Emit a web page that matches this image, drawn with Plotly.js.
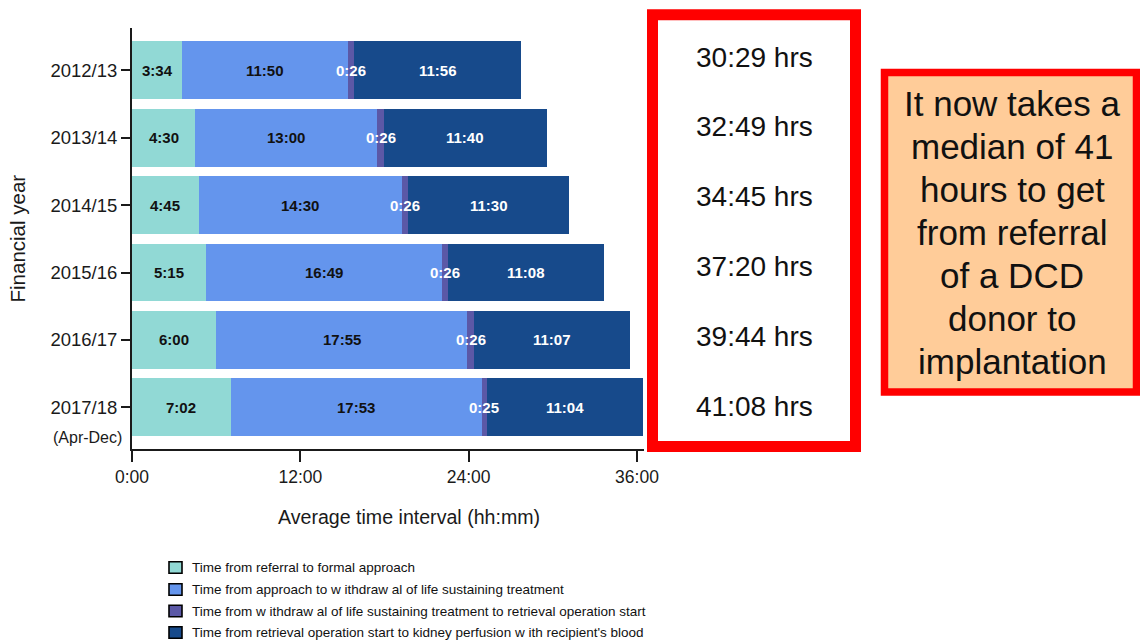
<!DOCTYPE html>
<html>
<head>
<meta charset="utf-8">
<script src="https://cdn.plot.ly/plotly-3.0.1.min.js"></script>
<style>
  html, body { margin: 0; padding: 0; background: #ffffff; }
  #chart { width: 1140px; height: 642px; }
</style>
</head>
<body>
<div id="chart"></div>
<script>
// Financial years shown on the vertical axis (top to bottom)
const years = ['2012/13', '2013/14', '2014/15', '2015/16', '2016/17', '2017/18'];

// Median interval for each stage, hh:mm
const referralToApproach   = ['3:34', '4:30', '4:45', '5:15', '6:00', '7:02'];
const approachToWithdrawal = ['11:50', '13:00', '14:30', '16:49', '17:55', '17:53'];
const withdrawalToRetrieval = ['0:26', '0:26', '0:26', '0:26', '0:26', '0:25'];
const retrievalToPerfusion = ['11:56', '11:40', '11:30', '11:08', '11:07', '11:04'];

// Overall referral-to-implantation times listed beside the bars
const totalTimes = ['30:29', '32:49', '34:45', '37:20', '39:44', '41:08'];

const stageNames = [
  'Time from referral to formal approach',
  'Time from approach to w ithdraw al of life sustaining treatment',
  'Time from w ithdraw al of life sustaining treatment to retrieval operation start',
  "Time from retrieval operation start to kidney perfusion w ith recipient's blood"
];
const stageColors = ['#91D9D5', '#6495ED', '#5B58A6', '#174A8B'];
const labelColors = ['#111111', '#111111', '#ffffff', '#ffffff'];

const xTickVals = [0, 12, 24, 36];
const xTickText = ['0:00', '12:00', '24:00', '36:00'];

const calloutLines = [
  'It now takes a',
  'median of 41',
  'hours to get',
  'from referral',
  'of a DCD',
  'donor to',
  'implantation'
];

// ---- helpers ----
function toHours(s) {
  const parts = s.split(':').map(Number);
  return parts[0] + parts[1] / 60;
}

const FONT = 'Liberation Sans, Arial, Helvetica, sans-serif';
const W = 1140, H = 642;
const M = { l: 132, r: 496, t: 28, b: 193 };
const plotW = W - M.l - M.r;
const plotH = H - M.t - M.b;
// pixel position -> paper coordinate
const px = x => (x - M.l) / plotW;
const py = y => (H - M.b - y) / plotH;

const stages = [referralToApproach, approachToWithdrawal, withdrawalToRetrieval, retrievalToPerfusion];
const stageHours = stages.map(arr => arr.map(toHours));

const traces = stageHours.map((vals, k) => ({
  type: 'bar',
  orientation: 'h',
  x: vals,
  y: years,
  name: stageNames[k],
  marker: { color: stageColors[k], line: { width: 0 } },
  hoverinfo: 'skip',
  showlegend: false
}));

const annotations = [];

// segment value labels, centred on each segment
years.forEach((yr, i) => {
  let start = 0;
  stageHours.forEach((vals, k) => {
    const v = vals[i];
    annotations.push({
      x: start + v / 2, y: yr, xref: 'x', yref: 'y',
      text: '<b>' + stages[k][i] + '</b>',
      showarrow: false, xanchor: 'center', yanchor: 'middle',
      font: { family: FONT, size: 15, color: labelColors[k] }
    });
    start += v;
  });
});

// partial-year note under the last category
annotations.push({
  x: px(87), y: years[5], xref: 'paper', yref: 'y', yshift: -30,
  text: '(Apr-Dec)', showarrow: false, xanchor: 'center', yanchor: 'middle',
  font: { family: FONT, size: 16, color: '#1a1a1a' }
});

// axis titles
annotations.push({
  x: px(409), y: py(517), xref: 'paper', yref: 'paper',
  text: 'Average time interval (hh:mm)', showarrow: false,
  xanchor: 'center', yanchor: 'middle',
  font: { family: FONT, size: 19.6, color: '#1a1a1a' }
});
annotations.push({
  x: px(17), y: py(238.5), xref: 'paper', yref: 'paper',
  text: 'Financial year', showarrow: false, textangle: -90,
  xanchor: 'center', yanchor: 'middle',
  font: { family: FONT, size: 20.5, color: '#1a1a1a' }
});

// totals column
totalTimes.forEach((t, i) => {
  annotations.push({
    x: px(754), y: py(57 + i * 69.8), xref: 'paper', yref: 'paper',
    text: t + ' hrs', showarrow: false, xanchor: 'center', yanchor: 'middle',
    font: { family: FONT, size: 28, color: '#111111' }
  });
});

// callout text
calloutLines.forEach((line, i) => {
  annotations.push({
    x: px(1012), y: py(103 + i * 43.1), xref: 'paper', yref: 'paper',
    text: line, showarrow: false, xanchor: 'center', yanchor: 'middle',
    font: { family: FONT, size: 35, color: '#111111' }
  });
});

const shapes = [
  // totals frame
  {
    type: 'rect', xref: 'paper', yref: 'paper', layer: 'above',
    x0: px(652.5), x1: px(855.5), y0: py(14.8), y1: py(446.5),
    fillcolor: '#ffffff', line: { color: '#ff0000', width: 11 }
  },
  // callout box
  {
    type: 'rect', xref: 'paper', yref: 'paper', layer: 'above',
    x0: px(884.5), x1: px(1136.5), y0: py(72.5), y1: py(392),
    fillcolor: '#FFCC99', line: { color: '#ff0000', width: 7.5 }
  }
];

// legend keys
const legendRows = [567.5, 589.5, 611, 632.5];
stageNames.forEach((name, k) => {
  const cy = legendRows[k];
  shapes.push({
    type: 'rect', xref: 'paper', yref: 'paper', layer: 'above',
    x0: px(169), x1: px(182), y0: py(cy - 5.8), y1: py(cy + 5.8),
    fillcolor: stageColors[k], line: { color: '#000000', width: 1.6 }
  });
  annotations.push({
    x: px(190), y: py(cy), xref: 'paper', yref: 'paper',
    text: name, showarrow: false, xanchor: 'left', yanchor: 'middle',
    font: { family: FONT, size: 13.5, color: '#111111' }
  });
});

const layout = {
  width: W, height: H,
  margin: M,
  paper_bgcolor: '#ffffff',
  plot_bgcolor: '#ffffff',
  barmode: 'stack',
  bargap: 0.14,
  showlegend: false,
  font: { family: FONT, color: '#1a1a1a' },
  xaxis: {
    range: [0, 36.5],
    tickvals: xTickVals, ticktext: xTickText,
    ticks: 'outside', ticklen: 11, tickwidth: 2, tickcolor: '#1a1a1a',
    showline: true, linewidth: 2, linecolor: '#1a1a1a',
    showgrid: false, zeroline: false,
    tickfont: { family: FONT, size: 17.5, color: '#1a1a1a' },
    fixedrange: true
  },
  yaxis: {
    type: 'category',
    range: [5.62, -0.63],
    ticks: 'outside', ticklen: 9, tickwidth: 2, tickcolor: '#1a1a1a',
    showline: true, linewidth: 2, linecolor: '#1a1a1a',
    showgrid: false, zeroline: false,
    tickfont: { family: FONT, size: 18.5, color: '#1a1a1a' },
    fixedrange: true
  },
  annotations: annotations,
  shapes: shapes
};

Plotly.newPlot('chart', traces, layout, { displayModeBar: false, staticPlot: true });
</script>
</body>
</html>
